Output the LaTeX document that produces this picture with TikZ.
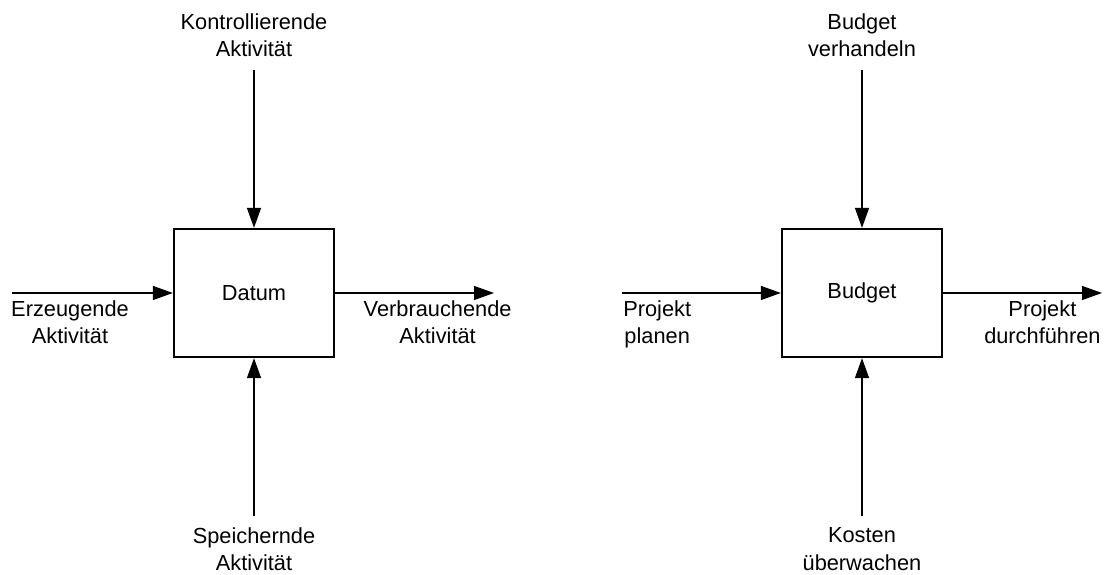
\documentclass[tikz,border=0pt]{standalone}
\usepackage{fontspec}
\setmainfont{Liberation Sans}
\usepackage{tikz}
\usetikzlibrary{arrows.meta,positioning}

\begin{document}
\begin{tikzpicture}[
  every node/.style={font=\fontsize{15.5}{19.8}\selectfont, inner sep=0pt},
  datbox/.style={draw, line width=1.6pt, minimum width=4.0cm,
                 minimum height=3.2cm},
  lbl/.style={align=center, anchor=north},
  arrow/.style={-{Triangle[length=0.5cm, width=0.35cm]}, line width=0.9pt},
]
\useasboundingbox (0,0) rectangle (27.7,14.375);

%% ── Left: generic data object ─────────────────────────────────────────────
\node[datbox] (datum) at (6.35, 7.05) {Datum};

\node[lbl] (kontr) at (6.35, 14.05) {Kontrollierende\\Aktivität};
\node[lbl] (speich) at (6.35, 1.2) {Speichernde\\Aktivität};
\node[lbl] (erz) at (1.75, 6.875) {Erzeugende\\Aktivität};
\node[lbl] (verbr) at (10.94, 6.875) {Verbrauchende\\Aktivität};

\coordinate (kontrEnd) at (6.35, 12.625);
\coordinate (speichEnd) at (6.35, 1.475);
\coordinate (erzEnd) at (0.3, 7.05);
\coordinate (verbrEnd) at (12.35, 7.05);

%% ── Right: example "Budget" ───────────────────────────────────────────────
\node[datbox] (budget) at (21.55, 7.05) {Budget};

\node[lbl] (verh) at (21.55, 14.05) {Budget\\verhandeln};
\node[lbl] (kosten) at (21.55, 1.2) {Kosten\\überwachen};
\node[lbl] (plan) at (16.43, 6.875) {Projekt\\planen};
\node[lbl] (durch) at (26.06, 6.875) {Projekt\\durchführen};

\coordinate (verhEnd) at (21.55, 12.625);
\coordinate (kostenEnd) at (21.55, 1.475);
\coordinate (planEnd) at (15.55, 7.05);
\coordinate (durchEnd) at (27.55, 7.05);

%% ── Connection arrows ─────────────────────────────────────────────────────
\draw[arrow] (kontrEnd) -- (datum.north);
\draw[arrow] (speichEnd) -- (datum.south);
\draw[arrow] (erzEnd) -- (datum.west);
\draw[arrow] (datum.east) -- (verbrEnd);

\draw[arrow] (verhEnd) -- (budget.north);
\draw[arrow] (kostenEnd) -- (budget.south);
\draw[arrow] (planEnd) -- (budget.west);
\draw[arrow] (budget.east) -- (durchEnd);

\end{tikzpicture}
\end{document}
